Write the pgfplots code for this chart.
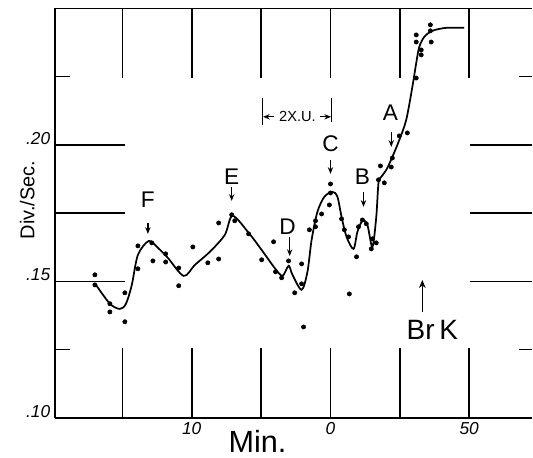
\documentclass[border=0pt]{standalone}
\usepackage{pgfplots}
\pgfplotsset{compat=1.18}
\usepackage{fontspec}
\setmainfont{Liberation Sans}
\usetikzlibrary{arrows.meta}

\newcommand\fs[1]{\fontsize{#1}{#1}\selectfont}

\begin{document}
\begin{tikzpicture}
\begin{axis}[
    scale only axis,
    width=358.5pt, height=307.5pt,
    xmin=-99.3, xmax=72.7,
    ymin=0.10, ymax=0.25,
    axis x line=box, axis y line=left,
    axis line style={line width=1.2pt, -},
    xtick pos=both, tick align=inside,
    major tick length=52.5pt, minor tick length=11pt,
    every tick/.style={line width=1.2pt, black},
    xtick={-75,-50,-25,0,25,50},
    xticklabels={,10,,0,,50},
    ytick={0.10,0.15,0.175,0.20},
    yticklabels={.10,.15,,.20},
    minor ytick={0.125,0.225},
    xticklabel style={font=\fs{13}\itshape},
    yticklabel style={font=\fs{13}\itshape, yshift=5pt},
    clip=false,
]

% scattered readings
\addplot[only marks, mark=*, mark size=1.6pt, black] coordinates {
    (-84.9,0.1524) (-84.9,0.1487) (-79.5,0.1418) (-79.5,0.1388)
    (-74.1,0.1458) (-74.1,0.1352) (-69.4,0.1546) (-69.4,0.1630)
    (-64.4,0.1641) (-64.0,0.1575) (-59.4,0.1601) (-59.4,0.1571)
    (-54.7,0.1549) (-54.7,0.1484) (-49.6,0.1626) (-44.2,0.1568)
    (-40.3,0.1582) (-40.3,0.1714) (-35.6,0.1744) (-34.5,0.1722)
    (-29.5,0.1674) (-24.8,0.1579) (-20.5,0.1645) (-19.8,0.1535)
    (-17.6,0.1513) (-15.1,0.1575) (-12.9,0.1458) (-10.4,0.1564)
    (-10.4,0.1491) (-9.7,0.1333) (-7.6,0.1689) (-5.4,0.1722)
    (-5.4,0.1700) (-3.2,0.1747) (-0.4,0.1780) (0,0.1824)
    (0,0.1857) (4.0,0.1729) (5.0,0.1689) (6.5,0.1663)
    (9.4,0.1590) (6.8,0.1454) (10.1,0.1700) (11.5,0.1725)
    (12.9,0.1711) (14.7,0.1619) (15.1,0.1656) (16.5,0.1641)
    (17.3,0.1872) (18.0,0.1923) (19.4,0.1861) (21.9,0.1919)
    (22.3,0.1952) (24.8,0.2033) (27.7,0.2044) (30.9,0.2245)
    (30.9,0.2403) (30.9,0.2377) (32.7,0.2348) (32.7,0.2330)
    (36.3,0.2377) (36.0,0.2440) (36.0,0.2418)
};

% hand-drawn curve
\addplot[smooth, tension=0.5, line width=1.3pt, black, no marks] coordinates {
    (-84.5,0.1487) (-79.5,0.1418) (-75.9,0.1399) (-73.7,0.1418)
    (-71.6,0.1487) (-69.4,0.1597) (-65.5,0.1648) (-62.2,0.1623)
    (-58.6,0.1586) (-52.9,0.1520) (-48.9,0.1560) (-43.5,0.1608)
    (-38.1,0.1670) (-35.3,0.1740) (-29.5,0.1678) (-24.8,0.1615)
    (-20.1,0.1549) (-17.3,0.1520) (-15.1,0.1557) (-13.7,0.1524)
    (-10.4,0.1469) (-8.3,0.1535) (-6.8,0.1652) (-4.7,0.1755)
    (-2.2,0.1810) (0.7,0.1828) (2.5,0.1810) (4.0,0.1736)
    (5.8,0.1663) (8.3,0.1619) (9.7,0.1681) (11.5,0.1722)
    (13.3,0.1707) (15.1,0.1626) (16.5,0.1736) (17.3,0.1861)
    (18.3,0.1883) (20.1,0.1908) (22.3,0.1956) (24.8,0.2018)
    (27.3,0.2092) (29.5,0.2212) (30.9,0.2300) (32.0,0.2359)
    (33.8,0.2396) (36.7,0.2418) (41.7,0.2429) (48.2,0.2429)
};

% page extent
\path (axis cs:-119.1,0.0853) rectangle (axis cs:72.7,0.2531);

% right-hand ticks (no right border)
\draw[line width=1.2pt] (axis cs:50.4,0.20) -- (axis cs:72.7,0.20);
\draw[line width=1.2pt] (axis cs:50.4,0.175) -- (axis cs:72.7,0.175);
\draw[line width=1.2pt] (axis cs:50.4,0.15) -- (axis cs:72.7,0.15);
\draw[line width=1.2pt] (axis cs:68.0,0.225) -- (axis cs:72.7,0.225);
\draw[line width=1.2pt] (axis cs:68.0,0.125) -- (axis cs:72.7,0.125);

% labels
\node[font=\fs{15}, rotate=90] at (axis cs:-109.3,0.1798) {Div./Sec.};
\node[font=\fs{23}] at (axis cs:-26.3,0.0912) {Min.};

\tikzset{arr/.style={line width=1pt, -{Stealth[length=5pt,width=4pt]}}}
\node[font=\fs{17}] at (axis cs:-65.8,0.1798) {F};
\draw[arr] (axis cs:-65.8,0.1714) -- (axis cs:-65.8,0.1674);
\node[font=\fs{17}] at (axis cs:-35.6,0.1883) {E};
\draw[arr] (axis cs:-35.6,0.1846) -- (axis cs:-35.6,0.1795);
\node[font=\fs{17}] at (axis cs:-15.5,0.1700) {D};
\draw[arr] (axis cs:-14.7,0.1663) -- (axis cs:-14.7,0.1593);
\node[font=\fs{17}] at (axis cs:0,0.2004) {C};
\draw[arr] (axis cs:0,0.1945) -- (axis cs:0,0.1894);
\node[font=\fs{17}] at (axis cs:11.5,0.1883) {B};
\draw[arr] (axis cs:11.9,0.1828) -- (axis cs:11.9,0.1773);
\node[font=\fs{17}] at (axis cs:21.6,0.2117) {A};
\draw[arr] (axis cs:21.9,0.2048) -- (axis cs:21.9,0.1993);

% 2 X.U. bracket
\draw[line width=1.2pt] (axis cs:-24.5,0.2172) -- (axis cs:-24.5,0.2073);
\draw[line width=1.2pt] (axis cs:0.4,0.2172) -- (axis cs:0.4,0.2085);
\draw[arr] (axis cs:-20.5,0.2103) -- (axis cs:-24.3,0.2103);
\draw[arr] (axis cs:-3.6,0.2103) -- (axis cs:0.2,0.2103);
\node[font=\fs{11}] at (axis cs:-11.9,0.2103) {2X.U.};

% Br K edge
\node[font=\fs{21}] at (axis cs:36.7,0.1322) {Br\,K};
\draw[line width=1pt, -{Stealth[length=6pt,width=5pt]}] (axis cs:33.1,0.1388) -- (axis cs:33.1,0.1505);

\end{axis}
\end{tikzpicture}
\end{document}
